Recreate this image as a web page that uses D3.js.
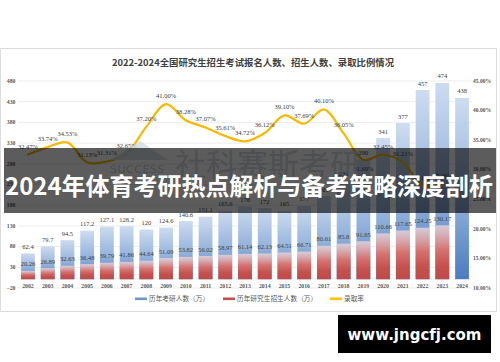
<!DOCTYPE html>
<html><head><meta charset="utf-8">
<script src="https://cdn.jsdelivr.net/npm/d3@7/dist/d3.min.js"></script>
<style>body{margin:0;background:#fff}svg{display:block}</style>
</head><body>
<script>
// ---------- data ----------
const years = ["2002","2003","2004","2005","2006","2007","2008","2009","2010","2011","2012","2013","2014","2015","2016","2017","2018","2019","2020","2021","2022","2023","2024"];
const applicants = [62.4,79.7,94.5,117.2,127.1,128.2,120,124.6,140.6,151.1,165.6,176,172,165,177,201,238,290,341,377,457,474,438];
const enrolled = [20.26,26.89,32.63,36.48,39.79,41.86,44.64,51.09,53.82,56.02,58.97,61.14,62.13,64.51,66.71,80.61,85.8,91.65,110.66,117.65,124.25,130.17,null];
const rates = [32.47,33.74,34.53,31.13,31.31,32.65,37.20,41.00,38.28,37.07,35.61,34.72,36.12,39.10,37.69,40.10,36.05,31.60,32.45,31.21,27.19,27.46,null];
const leftTicks = [-20,30,80,130,180,230,280,330,380,430,480];
const rightTicks = [0.10,0.15,0.20,0.25,0.30,0.35,0.40,0.45];
const rateLabelsBelow = ["2019"];
const title = "2022-2024全国研究生招生考试报名人数、招生人数、录取比例情况";
const legendLabels = ["历年考研人数（万）","历年研究生招生人数（万）","录取率"];
const bannerText = "2024年体育考研热点解析与备考策略深度剖析";
const watermarkCn = "社科赛斯考研";
const watermarkEn = "SUCCESS";
const siteText = "www.jngcfj.com";

// ---------- setup ----------
const W = 500, H = 362;
const svg = d3.select("body").append("svg").attr("width", W).attr("height", H);
svg.append("rect").attr("width", W).attr("height", H).attr("fill", "#fff");

const defs = svg.append("defs");
const gb = defs.append("linearGradient").attr("id","gBlue").attr("x1",0).attr("y1",0).attr("x2",0).attr("y2",1);
gb.append("stop").attr("offset","0").attr("stop-color","#cddcf0");
gb.append("stop").attr("offset","0.55").attr("stop-color","#93b2db");
gb.append("stop").attr("offset","1").attr("stop-color","#4a7cbf");
const gr = defs.append("linearGradient").attr("id","gRed").attr("x1",0).attr("y1",0).attr("x2",0).attr("y2",1);
gr.append("stop").attr("offset","0").attr("stop-color","#f3dada").attr("stop-opacity",0.75);
gr.append("stop").attr("offset","0.45").attr("stop-color","#d6726f");
gr.append("stop").attr("offset","0.75").attr("stop-color","#c4514e");
gr.append("stop").attr("offset","1").attr("stop-color","#bf4b48");

// chart frame
svg.append("rect").attr("x",0.5).attr("y",48.5).attr("width",496).attr("height",263)
  .attr("fill","#fff").attr("stroke","#dcdcdc");

// scales
const x = d3.scaleBand().domain(years).range([18.1, 471.9]).paddingInner(0.3).paddingOuter(0.15);
const yL = d3.scaleLinear().domain([-20, 480]).range([287.5, 80.5]);
const yR = d3.scaleLinear().domain([0.10, 0.45]).range([287.5, 80.5]);

// gridlines
svg.append("g").selectAll("line").data(leftTicks).join("line")
  .attr("x1", 18).attr("x2", 472)
  .attr("y1", d => yL(d) + 0.5).attr("y2", d => yL(d) + 0.5)
  .attr("stroke", "#ededed").attr("stroke-width", 1);

// title
svg.append("text").attr("x", 253).attr("y", 66).attr("text-anchor","middle")
  .attr("font-family","'Noto Sans CJK SC', sans-serif").attr("font-weight","bold")
  .attr("font-size", 9.4).attr("fill","#404040").text(title);

// axes
const axisFont = g => g.selectAll("text")
  .attr("font-family","'Liberation Serif', serif").attr("font-weight","bold")
  .attr("font-size", 5.8).attr("fill","#595959");

const gL = svg.append("g").attr("transform","translate(19.5,0)")
  .call(d3.axisLeft(yL).tickValues(leftTicks).tickSize(0).tickPadding(4).tickFormat(d3.format("d")));
gL.select(".domain").remove(); axisFont(gL);

const gR = svg.append("g").attr("transform","translate(470,0)")
  .call(d3.axisRight(yR).tickValues(rightTicks).tickSize(0).tickPadding(3).tickFormat(d3.format(".2%")));
gR.select(".domain").remove(); axisFont(gR);
gR.selectAll("text").attr("font-size", 5.5);

const gX = svg.append("g").attr("transform","translate(0,283.5)")
  .call(d3.axisBottom(x).tickSize(0).tickPadding(0));
gX.select(".domain").remove(); axisFont(gX);

// bars
const rows = years.map((y, i) => ({year: y, a: applicants[i], e: enrolled[i], r: rates[i]}));
svg.append("g").selectAll("rect").data(rows).join("rect")
  .attr("x", d => x(d.year)).attr("width", x.bandwidth())
  .attr("y", d => yL(d.a)).attr("height", d => yL(0) - yL(d.a))
  .attr("fill", "url(#gBlue)");
svg.append("g").selectAll("rect").data(rows.filter(d => d.e != null)).join("rect")
  .attr("x", d => x(d.year)).attr("width", x.bandwidth())
  .attr("y", d => yL(d.e)).attr("height", d => yL(0) - yL(d.e))
  .attr("fill", "url(#gRed)");

const labelFont = sel => sel.attr("font-family","'Liberation Serif', serif")
  .attr("font-size", 6.5).attr("fill","#404040").attr("text-anchor","middle");

svg.append("g").selectAll("text").data(rows).join("text")
  .attr("x", d => x(d.year) + x.bandwidth()/2).attr("y", d => yL(d.a) - 4.5)
  .text(d => d.a).call(labelFont);
svg.append("g").selectAll("text").data(rows.filter(d => d.e != null)).join("text")
  .attr("x", d => x(d.year) + x.bandwidth()/2).attr("y", d => yL(d.e) - 4.5)
  .text(d => d.e).call(labelFont);

// rate line
const lineRows = rows.filter(d => d.r != null);
const line = d3.line().x(d => x(d.year) + x.bandwidth()/2).y(d => yR(d.r/100)).curve(d3.curveCatmullRom.alpha(0.5));
svg.append("path").datum(lineRows).attr("d", line)
  .attr("fill","none").attr("stroke","#f7b900").attr("stroke-width",2.2).attr("stroke-linecap","round");
svg.append("g").selectAll("text").data(lineRows).join("text")
  .attr("x", d => x(d.year) + x.bandwidth()/2)
  .attr("y", d => rateLabelsBelow.includes(d.year) ? yR(d.r/100) + 11.5 : yR(d.r/100) - 6)
  .text(d => d3.format(".2f")(d.r) + "%").call(labelFont);

// legend
const legend = svg.append("g").attr("font-family","'Noto Sans CJK SC', sans-serif").attr("font-size",6.7).attr("fill","#595959");
const legendColors = ["#6f97cc","#c0504d","#ffc000"];
const legendX = [135, 223, 330];
legendLabels.forEach((t, i) => {
  legend.append("rect").attr("x", legendX[i]).attr("y", 297.5).attr("width", 12).attr("height", 2.6).attr("fill", legendColors[i]);
  legend.append("text").attr("x", legendX[i] + 14).attr("y", 301).text(t);
});

// watermark behind banner
svg.append("path").attr("d","M110,160 L140,141 L168,160 Z").attr("fill","#d3dbe5").attr("opacity",0.8);
svg.append("text").attr("x",110).attr("y",173).attr("font-family","'DejaVu Sans', sans-serif")
  .attr("font-size",11).attr("letter-spacing",0.5).attr("fill","#c9d2de").text(watermarkEn);
svg.append("text").attr("x",175).attr("y",176).attr("font-family","'Noto Sans CJK SC', sans-serif")
  .attr("font-size",31).attr("fill","#cfd5dd").attr("opacity",0.85).text(watermarkCn);

// banner
svg.append("rect").attr("x",4).attr("y",148).attr("width",492).attr("height",65).attr("fill","rgba(0,0,0,0.64)");
svg.append("text").attr("x",5).attr("y",195).attr("font-family","'Noto Sans CJK SC', sans-serif")
  .attr("font-weight","bold").attr("font-size",24).attr("fill","#fff")
  .attr("textLength",488).attr("lengthAdjust","spacingAndGlyphs").text(bannerText);

// site tag
svg.append("rect").attr("x",338).attr("y",315).attr("width",153).attr("height",38).attr("fill","#000");
svg.append("text").attr("x",414.5).attr("y",340).attr("text-anchor","middle")
  .attr("font-family","'DejaVu Sans', sans-serif").attr("font-weight","bold").attr("font-size",15)
  .attr("fill","#fff").text(siteText);
</script>
</body></html>
